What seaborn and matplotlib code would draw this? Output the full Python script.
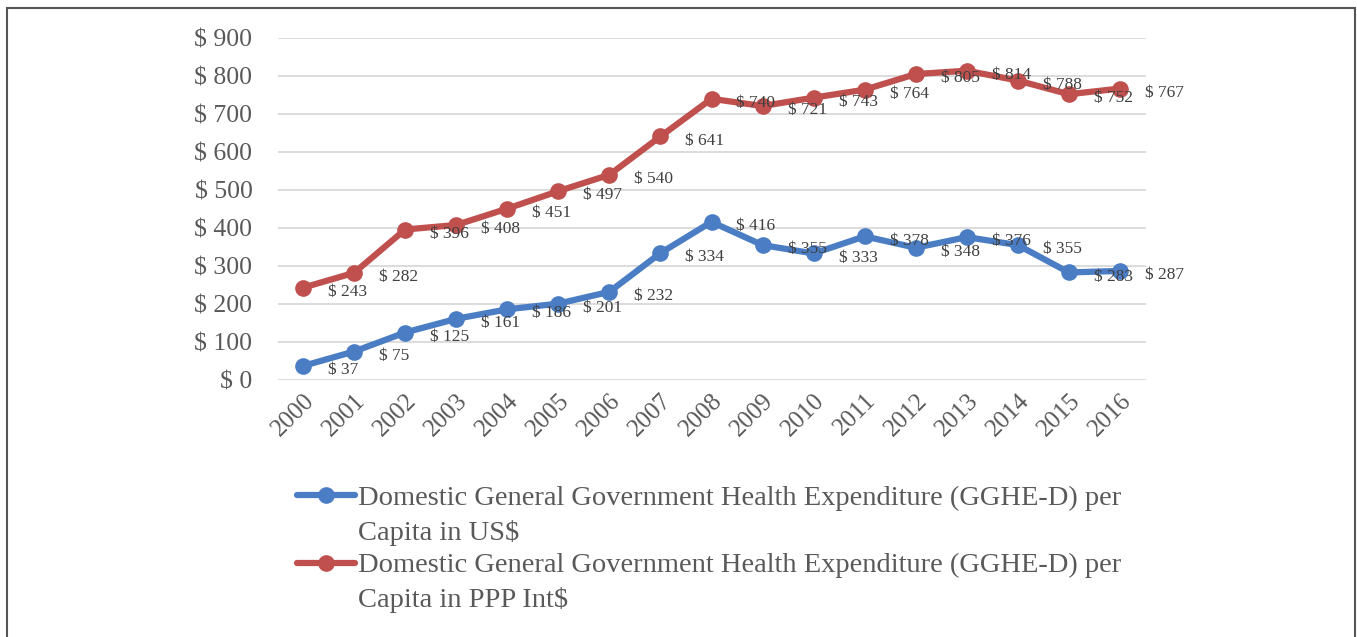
import numpy as np
import pandas as pd
import matplotlib
matplotlib.use("Agg")
import matplotlib.pyplot as plt
import seaborn as sns
from matplotlib.legend_handler import HandlerLine2D
from matplotlib.patches import Rectangle

years = ["2000", "2001", "2002", "2003", "2004", "2005", "2006", "2007", "2008",
         "2009", "2010", "2011", "2012", "2013", "2014", "2015", "2016"]
usd_values = [37, 75, 125, 161, 186, 201, 232, 334, 416, 355, 333, 378, 348, 376, 355, 283, 287]
ppp_values = [243, 282, 396, 408, 451, 497, 540, 641, 740, 721, 743, 764, 805, 814, 788, 752, 767]
series_names = ["Domestic General Government Health Expenditure (GGHE-D) per\nCapita in US$",
                "Domestic General Government Health Expenditure (GGHE-D) per\nCapita in PPP Int$"]
y_ticks = [0, 100, 200, 300, 400, 500, 600, 700, 800, 900]

BLUE = "#4A7DC4"
RED = "#C0504D"
GRAY = "#595959"

sns.set_theme(style="white")
plt.rcParams["font.family"] = ["Liberation Serif", "DejaVu Serif"]

df = pd.DataFrame({
    "year": years * 2,
    "x": list(range(len(years))) * 2,
    "value": usd_values + ppp_values,
    "series": [series_names[0]] * len(years) + [series_names[1]] * len(years),
})

fig = plt.figure(figsize=(13.57, 6.37), dpi=100)
ax = fig.add_axes([277.5 / 1357, 1 - 380 / 637, (1145.5 - 277.5) / 1357, (380 - 38) / 637])

sns.lineplot(data=df, x="x", y="value", hue="series", palette=[BLUE, RED],
             marker="o", markersize=12, linewidth=4.5, markeredgewidth=0,
             ax=ax, legend=False)

ax.set_xlim(-0.5, len(years) - 0.5)
ax.set_ylim(0, 900)
ax.set_yticks(y_ticks)
ax.set_yticklabels([f"$ {v}" for v in y_ticks], fontsize=18.5, color=GRAY)
ax.set_xticks(range(len(years)))
ax.set_xticklabels(years, rotation=45, ha="right", rotation_mode="anchor",
                   fontsize=18, color=GRAY)
ax.tick_params(axis="y", length=0, pad=18)
ax.tick_params(axis="x", length=0, pad=7)
ax.set_xlabel("")
ax.set_ylabel("")
for s in ax.spines.values():
    s.set_visible(False)
ax.grid(axis="y", color="#D9D9D9", linewidth=1.3)
ax.set_axisbelow(True)

for vals in (usd_values, ppp_values):
    for i, v in enumerate(vals):
        ax.annotate(f"$ {v}", (i, v), xytext=(18, -3), textcoords="offset points",
                    ha="left", va="center", fontsize=12.5, color="#404040")


class FirstLineHandler(HandlerLine2D):
    def create_artists(self, legend, orig_handle, xdescent, ydescent, width,
                       height, fontsize, trans):
        arts = super().create_artists(legend, orig_handle, xdescent, ydescent,
                                      width, height, fontsize, trans)
        for a in arts:
            a.set_ydata(np.asarray(a.get_ydata(), dtype=float) + 0.70 * fontsize)
        return arts


handles = [plt.Line2D([], [], color=c, linewidth=4.5, marker="o", markersize=12,
                      markeredgewidth=0) for c in (BLUE, RED)]
leg = fig.legend(handles, series_names, loc="upper left",
                 bbox_to_anchor=(297 / 1357, 1 - 486 / 637), frameon=False,
                 fontsize=20.5, handlelength=2.05, handletextpad=0.1,
                 labelspacing=0.27, borderaxespad=0, borderpad=0,
                 handler_map={plt.Line2D: FirstLineHandler()})
for t in leg.get_texts():
    t.set_color(GRAY)
    t.set_linespacing(1.42)

fig.patches.append(Rectangle((7 / 1357, -0.05), (1355 - 7) / 1357, 1.05 - 8 / 637,
                             transform=fig.transFigure, fill=False,
                             edgecolor="#555555", linewidth=1.5))

fig.savefig("out.png", dpi=100, facecolor="white")
